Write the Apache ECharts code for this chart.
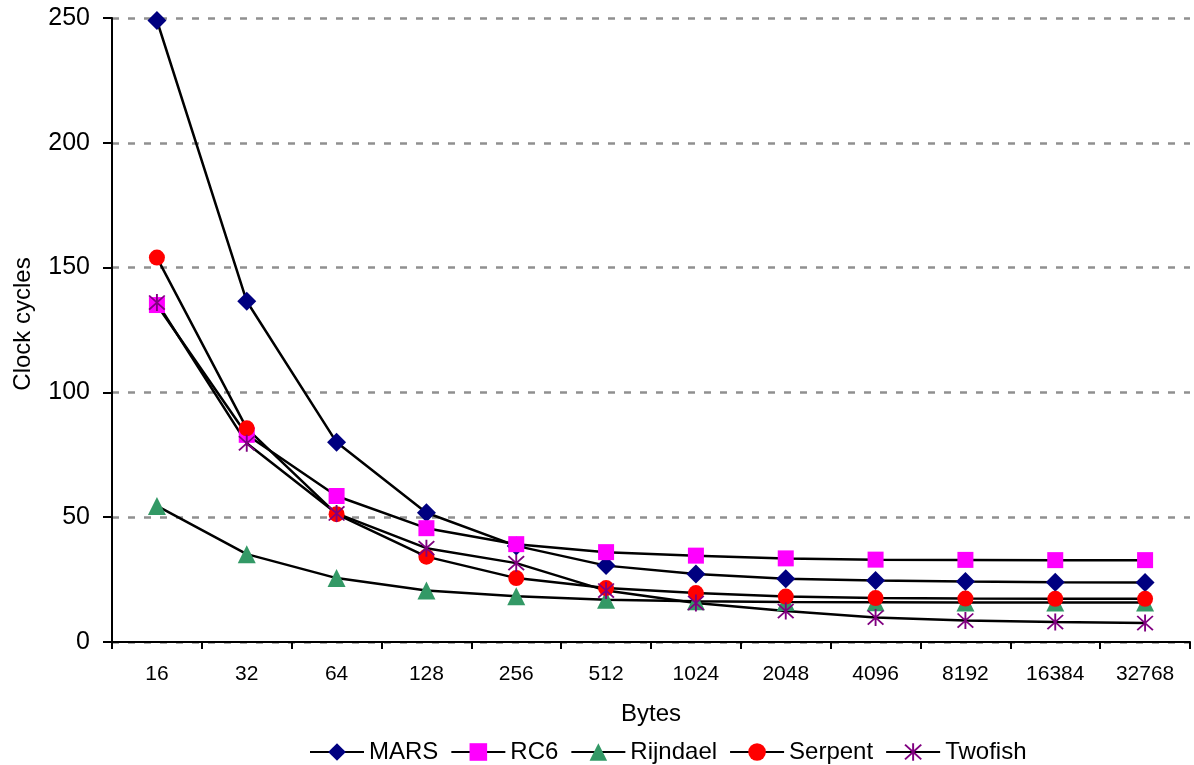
<!DOCTYPE html>
<html>
<head>
<meta charset="utf-8">
<script src="https://cdn.jsdelivr.net/npm/echarts@6/dist/echarts.min.js"></script>
<style>html,body{margin:0;padding:0;background:#fff}#c{width:1194px;height:765px}</style>
</head>
<body>
<div id="c"></div>
<script>
const categories = ['16','32','64','128','256','512','1024','2048','4096','8192','16384','32768'];
const mars     = [249, 136.5, 80, 51.8, 38.5, 30.6, 27.2, 25.3, 24.6, 24.2, 23.9, 23.8];
const rc6      = [135, 83, 58.5, 45.6, 39.2, 36, 34.6, 33.5, 33, 32.9, 32.8, 32.8];
const rijndael = [54.5, 35.2, 25.6, 20.6, 18.3, 16.9, 16.3, 16.0, 15.9, 15.8, 15.8, 15.8];
const serpent  = [154, 85.6, 51.2, 34.2, 25.6, 21.6, 19.6, 18.2, 17.6, 17.4, 17.3, 17.3];
const twofish  = [136, 79.6, 51.5, 37.6, 31.6, 20.6, 15.6, 12.4, 9.8, 8.6, 8.0, 7.6];

const FONT = '"Liberation Sans", Arial, sans-serif';
const asterisk = 'path://M9,0L11,0L11,20L9,20Z M1,2.4L2.4,1L19,17.6L17.6,19Z M17.6,1L19,2.4L2.4,19L1,17.6Z';

function mk(name, data, symbol, size, color) {
  return {
    name, type: 'line', data, symbol, symbolSize: size, showSymbol: true,
    lineStyle: { color: '#000', width: 2.5 },
    itemStyle: { color: color, borderWidth: 0 },
    emphasis: { disabled: true }
  };
}

const chart = echarts.init(document.getElementById('c'), null, { renderer: 'canvas' });
chart.setOption({
  animation: false,
  backgroundColor: '#fff',
  textStyle: { fontFamily: FONT, color: '#000' },
  grid: { left: 112, right: 4, top: 18, bottom: 123, containLabel: false },
  xAxis: {
    type: 'category', data: categories, boundaryGap: true,
    name: 'Bytes', nameLocation: 'middle', nameGap: 60,
    nameTextStyle: { fontFamily: FONT, fontSize: 24, color: '#000' },
    axisLine: { lineStyle: { color: '#000', width: 2 } },
    axisTick: { show: true, inside: false, length: 7, alignWithLabel: false, lineStyle: { color: '#000', width: 2 } },
    axisLabel: { fontFamily: FONT, fontSize: 21, color: '#000', margin: 22, interval: 0 },
    splitLine: { show: false }
  },
  yAxis: {
    type: 'value', min: 0, max: 250, interval: 50,
    name: 'Clock cycles', nameLocation: 'middle', nameGap: 77,
    nameTextStyle: { fontFamily: FONT, fontSize: 24, color: '#000', padding: [0, 0, 0, 12] },
    axisLine: { show: true, lineStyle: { color: '#000', width: 2 } },
    axisTick: { show: true, inside: false, length: 9, lineStyle: { color: '#000', width: 2 } },
    axisLabel: { fontFamily: FONT, fontSize: 25, color: '#000', margin: 22 },
    splitLine: { show: true, lineStyle: { color: '#909090', width: 2.5, type: [7, 9] } }
  },
  legend: {
    left: 304, top: 735, orient: 'horizontal',
    itemWidth: 54, itemHeight: 22, itemGap: 12,
    textStyle: { fontFamily: FONT, fontSize: 24, color: '#000' },
    data: ['MARS','RC6','Rijndael','Serpent','Twofish']
  },
  series: [
    mk('MARS', mars, 'diamond', 19, '#000080'),
    mk('RC6', rc6, 'rect', 16, '#FF00FF'),
    mk('Rijndael', rijndael, 'triangle', 18, '#339966'),
    mk('Serpent', serpent, 'circle', 16, '#FF0000'),
    mk('Twofish', twofish, asterisk, 17, '#800080')
  ]
});
</script>
</body>
</html>
